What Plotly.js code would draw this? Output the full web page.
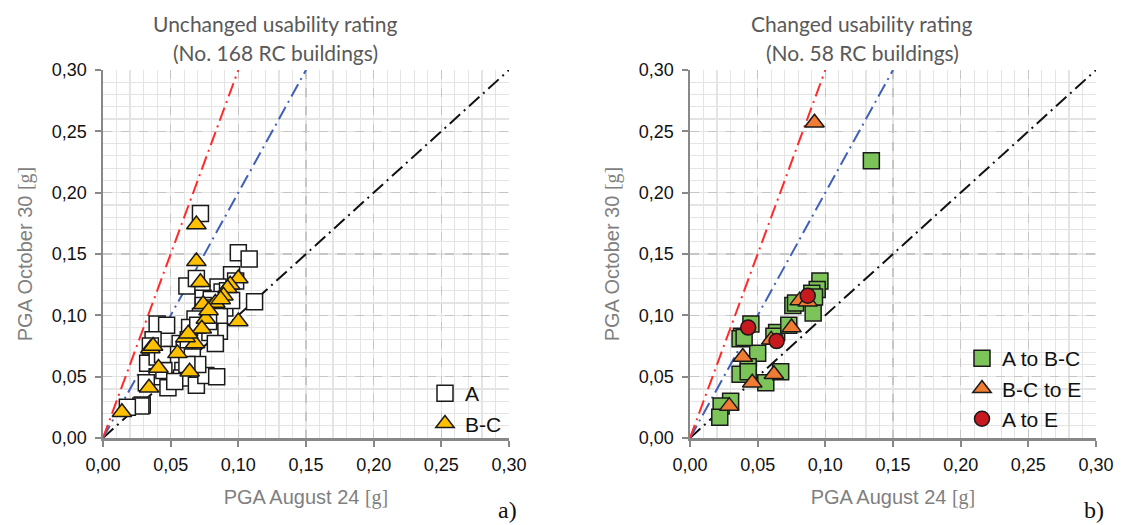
<!DOCTYPE html>
<html>
<head>
<meta charset="utf-8">
<script src="https://cdn.plot.ly/plotly-3.0.1.min.js"></script>
<style>html,body{margin:0;padding:0;background:#fff;}#chart{width:1129px;height:525px;}</style>
</head>
<body>
<div id="chart"></div>
<script>
// ---- Data (PGA values in g) ----
const unchangedA_x = [0.072,0.100,0.108,0.112,0.062,0.069,0.095,0.098,0.085,0.088,0.092,0.074,0.080,0.074,0.082,0.090,0.076,0.072,0.086,0.068,0.086,0.079,0.064,0.083,0.070,0.040,0.047,0.037,0.035,0.057,0.051,0.060,0.033,0.048,0.055,0.040,0.048,0.032,0.059,0.058,0.069,0.076,0.084,0.029,0.028,0.018,0.040,0.045,0.066,0.063,0.078,0.095,0.070,0.062,0.053,0.044];
const unchangedA_y = [0.183,0.151,0.146,0.111,0.124,0.130,0.133,0.128,0.123,0.119,0.120,0.114,0.113,0.108,0.106,0.106,0.102,0.099,0.099,0.097,0.087,0.086,0.090,0.077,0.092,0.093,0.092,0.080,0.075,0.077,0.068,0.072,0.061,0.062,0.060,0.050,0.041,0.045,0.055,0.049,0.043,0.051,0.050,0.027,0.026,0.025,0.066,0.055,0.066,0.080,0.095,0.112,0.060,0.060,0.046,0.068];
const unchangedBC_x = [0.069,0.069,0.072,0.100,0.094,0.092,0.089,0.083,0.074,0.076,0.100,0.073,0.068,0.061,0.035,0.037,0.055,0.041,0.034,0.064,0.014,0.087,0.063,0.078];
const unchangedBC_y = [0.174,0.144,0.127,0.130,0.125,0.122,0.116,0.110,0.109,0.097,0.095,0.089,0.077,0.082,0.073,0.075,0.069,0.057,0.041,0.054,0.021,0.113,0.085,0.104];

const changedAtoBC_x = [0.134,0.096,0.094,0.090,0.076,0.091,0.092,0.045,0.038,0.037,0.064,0.062,0.073,0.050,0.043,0.037,0.043,0.056,0.067,0.030,0.023,0.022,0.078,0.040];
const changedAtoBC_y = [0.226,0.128,0.121,0.118,0.108,0.102,0.115,0.093,0.083,0.081,0.086,0.083,0.092,0.069,0.058,0.052,0.054,0.045,0.054,0.030,0.026,0.017,0.110,0.082];
const changedBCtoE_x = [0.092,0.081,0.087,0.075,0.060,0.039,0.046,0.062,0.029];
const changedBCtoE_y = [0.257,0.112,0.111,0.090,0.080,0.066,0.045,0.052,0.026];
const changedAtoE_x = [0.043,0.064,0.087];
const changedAtoE_y = [0.090,0.079,0.116];

// reference ratio lines (PGA Oct 30 / PGA Aug 24)
const ratios = [1, 2, 3];
const ratioColors = ['#111111', '#3f5fb8', '#ff2a2a'];
const axisMax = 0.30;

const tickVals = [0, 0.05, 0.10, 0.15, 0.20, 0.25, 0.30];

const traces = [];
['x','x2'].forEach((xa, k) => {
  const ya = k === 0 ? 'y' : 'y2';
  ratios.forEach((r, i) => {
    traces.push({
      x: [0, axisMax / r], y: [0, axisMax], xaxis: xa, yaxis: ya,
      mode: 'lines', showlegend: false, hoverinfo: 'skip',
      line: {color: ratioColors[i], width: 2, dash: '14px,5px,2px,5px'}
    });
  });
});

const sqLine = {color: '#1a1a1a', width: 1.5};
traces.push({x: unchangedA_x, y: unchangedA_y, xaxis: 'x', yaxis: 'y', mode: 'markers', name: 'A', legend: 'legend',
  marker: {symbol: 'square', size: 16, color: '#ffffff', line: sqLine}});
traces.push({x: unchangedBC_x, y: unchangedBC_y, xaxis: 'x', yaxis: 'y', mode: 'markers', name: 'B-C', legend: 'legend',
  marker: {symbol: 'triangle-up', size: 17, color: '#ffc000', line: sqLine}});

traces.push({x: changedAtoBC_x, y: changedAtoBC_y, xaxis: 'x2', yaxis: 'y2', mode: 'markers', name: 'A to B-C', legend: 'legend2',
  marker: {symbol: 'square', size: 16, color: '#7cc35a', line: sqLine}});
traces.push({x: changedBCtoE_x, y: changedBCtoE_y, xaxis: 'x2', yaxis: 'y2', mode: 'markers', name: 'B-C to E', legend: 'legend2',
  marker: {symbol: 'triangle-up', size: 17, color: '#f07b32', line: sqLine}});
traces.push({x: changedAtoE_x, y: changedAtoE_y, xaxis: 'x2', yaxis: 'y2', mode: 'markers', name: 'A to E', legend: 'legend2',
  marker: {symbol: 'circle', size: 15, color: '#c8191e', line: sqLine}});

const W = 1129, H = 525;
const SANS = "'Liberation Sans', Arial, sans-serif";
const tickFont = {family: SANS, size: 18, color: '#111'};
const titleFont = {family: SANS, size: 20, color: '#7f7f7f'};
const serifG = "<span style=\"font-family:'Liberation Serif', serif\">[g]</span>";

function axis(domain, anchor, titleText, isY) {
  return {
    domain: domain, anchor: anchor, range: [0, axisMax], autorange: false,
    tickvals: tickVals, tickformat: '.2f', ticks: 'outside', ticklen: 6, tickwidth: 2, tickcolor: '#888',
    ticklabelstandoff: isY ? 4 : 3,
    tickfont: tickFont, showline: true, linecolor: '#888', linewidth: 2.5,
    showgrid: true, gridcolor: '#c6c6c6', griddash: 'dash', gridwidth: 1.5,
    zeroline: false, mirror: false,
    minor: {dtick: 0.01, showgrid: true, gridcolor: '#e4e4e4', gridwidth: 1.2, griddash: 'solid', ticks: ''},
    title: {text: titleText, font: titleFont, standoff: isY ? 14 : 16},
    fixedrange: true
  };
}

const xd1 = [103 / W, 509 / W], xd2 = [690 / W, 1096 / W];
const yd = [1 - 438 / H, 1 - 70 / H];
const legFont = {family: SANS, size: 21, color: '#111'};

const layout = {
  width: W, height: H,
  margin: {l: 0, r: 0, t: 0, b: 0},
  paper_bgcolor: '#fff', plot_bgcolor: '#fff',
  separators: ', ',
  xaxis: axis(xd1, 'y', 'PGA August 24 ' + serifG, false),
  yaxis: axis(yd, 'x', 'PGA October 30 ' + serifG, true),
  xaxis2: axis(xd2, 'y2', 'PGA August 24 ' + serifG, false),
  yaxis2: axis(yd, 'x2', 'PGA October 30 ' + serifG, true),
  legend: {x: 425 / W, y: 1 - 373 / H, xanchor: 'left', yanchor: 'top', bgcolor: 'rgba(0,0,0,0)',
    font: legFont, itemwidth: 30},
  legend2: {x: 962 / W, y: 1 - 338 / H, xanchor: 'left', yanchor: 'top', bgcolor: 'rgba(0,0,0,0)',
    font: legFont, itemwidth: 30},
  showlegend: true,
  annotations: [
    {text: 'Unchanged usability rating', x: 275 / W, y: 1 - 23 / H, xref: 'paper', yref: 'paper',
      xanchor: 'center', yanchor: 'middle', showarrow: false,
      font: {family: 'Lato, sans-serif', size: 21, color: '#595959'}},
    {text: '(No. 168 RC buildings)', x: 275 / W, y: 1 - 53 / H, xref: 'paper', yref: 'paper',
      xanchor: 'center', yanchor: 'middle', showarrow: false,
      font: {family: 'Lato, sans-serif', size: 21, color: '#595959'}},
    {text: 'Changed usability rating', x: 862 / W, y: 1 - 23 / H, xref: 'paper', yref: 'paper',
      xanchor: 'center', yanchor: 'middle', showarrow: false,
      font: {family: 'Lato, sans-serif', size: 21, color: '#595959'}},
    {text: '(No. 58 RC buildings)', x: 862 / W, y: 1 - 53 / H, xref: 'paper', yref: 'paper',
      xanchor: 'center', yanchor: 'middle', showarrow: false,
      font: {family: 'Lato, sans-serif', size: 21, color: '#595959'}},
    {text: 'a)', x: 507 / W, y: 1 - 510 / H, xref: 'paper', yref: 'paper', xanchor: 'center', yanchor: 'middle',
      showarrow: false, font: {family: "'Liberation Serif', serif", size: 24, color: '#111'}},
    {text: 'b)', x: 1094 / W, y: 1 - 510 / H, xref: 'paper', yref: 'paper', xanchor: 'center', yanchor: 'middle',
      showarrow: false, font: {family: "'Liberation Serif', serif", size: 24, color: '#111'}}
  ]
};

Plotly.newPlot('chart', traces, layout, {staticPlot: true, displayModeBar: false});
</script>
</body>
</html>
